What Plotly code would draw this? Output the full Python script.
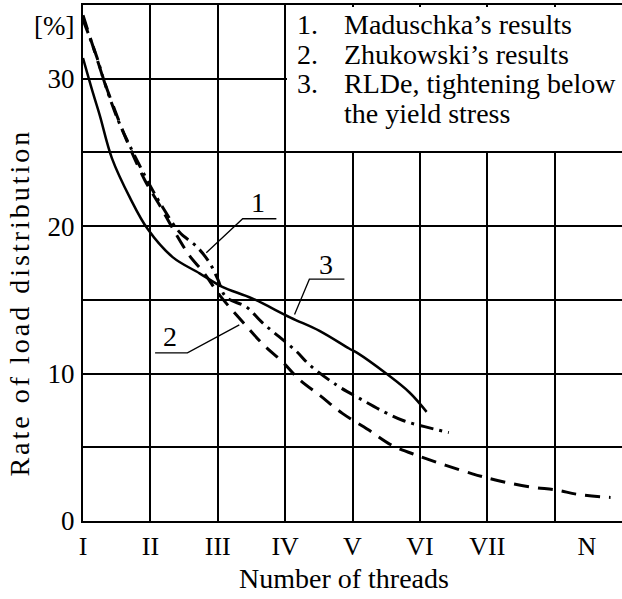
import plotly.graph_objects as go

# ---- data ----
threads_roman = ["I", "II", "III", "IV", "V", "VI", "VII", "N"]
thread_pos = [1, 2, 3, 4, 5, 6, 7, 8.48]

# 1. Maduschka's results (dash-dot)
mad_x = [1.0, 1.10, 1.21, 1.33, 1.52, 1.70, 1.99, 2.18, 2.43, 2.69, 2.88, 3.0, 3.12,
         3.43, 3.65, 3.91, 4.17, 4.36, 4.77, 5.11, 5.47, 5.76, 6.07, 6.43]
mad_y = [34.0, 32.8, 31.4, 29.6, 27.2, 25.4, 22.8, 21.3, 19.6, 18.6, 17.5, 16.4, 15.2,
         14.5, 13.5, 12.5, 11.5, 10.6, 9.2, 8.3, 7.4, 6.8, 6.4, 6.0]

# 2. Zhukowski's results (dashed)
zhu_x = [1.0, 1.07, 1.19, 1.31, 1.47, 1.65, 1.92, 2.14, 2.35, 2.58, 2.80, 3.03, 3.41,
         3.69, 3.96, 4.21, 4.52, 4.85, 5.23, 5.60, 5.99, 6.78, 7.20, 7.66, 8.03, 8.35, 8.83]
zhu_y = [34.3, 33.3, 31.6, 29.9, 27.9, 25.8, 23.1, 21.4, 19.7, 18.0, 16.8, 15.3, 13.3,
         11.9, 10.8, 9.6, 8.5, 7.3, 6.2, 5.1, 4.4, 3.2, 2.7, 2.3, 2.1, 1.8, 1.6]

# 3. RLDe, tightening below the yield stress (solid)
rld_x = [1.0, 1.15, 1.25, 1.43, 1.70, 1.96, 2.33, 2.73, 3.06, 3.51, 4.08, 4.51, 4.95,
         5.07, 5.50, 5.85, 6.10]
rld_y = [31.4, 29.0, 27.5, 24.6, 21.9, 19.8, 17.9, 16.8, 15.9, 15.1, 13.8, 12.9, 11.7,
         11.4, 10.0, 8.7, 7.4]

y_tick_vals = [0, 10, 20, 30, 33.6]
y_tick_text = ["0", "10", "20", "30", "[%]"]
y_grid_vals = [5, 10, 15, 20, 25, 30]
x_grid_vals = [2, 3, 4, 5, 6, 7, 8]

legend_nums = ["1.", "2.", "3.", ""]
legend_lines = ["Maduschka\u2019s results", "Zhukowski\u2019s results",
                "RLDe, tightening below", "the yield stress"]

FONT = "Liberation Serif, Times New Roman, serif"

fig = go.Figure()
fig.add_trace(go.Scatter(x=mad_x, y=mad_y, mode="lines", line_shape="spline",
                         line=dict(color="black", width=3, dash="14px,6px,3px,6px"),
                         showlegend=False, hoverinfo="skip"))
fig.add_trace(go.Scatter(x=zhu_x, y=zhu_y, mode="lines", line_shape="spline",
                         line=dict(color="black", width=3, dash="15px,9px"),
                         showlegend=False, hoverinfo="skip"))
fig.add_trace(go.Scatter(x=rld_x, y=rld_y, mode="lines", line_shape="spline",
                         line=dict(color="black", width=2.5),
                         showlegend=False, hoverinfo="skip"))

# white box behind the text legend (hides the grid there)
fig.add_annotation(x=0.378, y=0.996, xref="paper", yref="paper", text=" ",
                   showarrow=False, xanchor="left", yanchor="top",
                   width=340, height=144, bgcolor="white", borderpad=0, borderwidth=0)

# leader lines for curve labels
leaders = [
    ("1", 3.59, 21.6, "M 2.83 18.2 L 3.37 20.5 L 3.87 20.5"),
    ("3", 4.61, 17.4, "M 4.14 14.0 L 4.36 16.4 L 4.88 16.4"),
    ("2", 2.29, 12.5, "M 3.32 13.3 L 2.55 11.4 L 2.07 11.4"),
]
for lab, lx, ly, path in leaders:
    fig.add_shape(type="path", xref="x", yref="y", path=path,
                  line=dict(color="black", width=1.3))
    fig.add_annotation(x=lx, y=ly, xref="x", yref="y", text=lab, showarrow=False,
                       font=dict(family=FONT, size=28, color="black"),
                       xanchor="center", yanchor="middle")

# legend text
leg_y = [0.963, 0.905, 0.847, 0.789]
for num, txt, yy in zip(legend_nums, legend_lines, leg_y):
    if num:
        fig.add_annotation(x=0.393, y=yy, xref="paper", yref="paper", text=num,
                           showarrow=False, xanchor="left", yanchor="middle",
                           font=dict(family=FONT, size=28, color="black"))
    fig.add_annotation(x=0.4805, y=yy, xref="paper", yref="paper", text=txt,
                       showarrow=False, xanchor="left", yanchor="middle",
                       font=dict(family=FONT, size=28, color="black"))

# axis titles
fig.add_annotation(x=-0.118, y=0.424, xref="paper", yref="paper",
                   text='<span style="letter-spacing:3px">Rate of load distribution</span>',
                   textangle=-90, showarrow=False,
                   xanchor="center", yanchor="middle",
                   font=dict(family=FONT, size=28, color="black"))
fig.add_annotation(x=0.484, y=-0.112, xref="paper", yref="paper",
                   text="Number of threads", showarrow=False,
                   xanchor="center", yanchor="middle",
                   font=dict(family=FONT, size=28, color="black"))

fig.update_xaxes(range=[1, 9], tickmode="array", tickvals=thread_pos,
                 ticktext=threads_roman, showgrid=False, zeroline=False,
                 showline=True, linecolor="black", linewidth=2, mirror=True,
                 ticks="", ticklabelstandoff=1,
                 tickfont=dict(family=FONT, size=26, color="black"),
                 minor=dict(tickmode="array", tickvals=x_grid_vals, showgrid=True,
                            gridcolor="black", gridwidth=1.5, ticks=""))
fig.update_yaxes(range=[0, 35], tickmode="array", tickvals=y_tick_vals,
                 ticktext=y_tick_text, showgrid=False, zeroline=False,
                 showline=True, linecolor="black", linewidth=2,
                 ticks="", ticklabelstandoff=1,
                 tickfont=dict(family=FONT, size=27, color="black"),
                 minor=dict(tickmode="array", tickvals=y_grid_vals, showgrid=True,
                            gridcolor="black", gridwidth=1.5, ticks=""))

fig.update_layout(width=622, height=599, margin=dict(l=83, r=0, t=5, b=78),
                  plot_bgcolor="white", paper_bgcolor="white",
                  font=dict(family=FONT, color="black"), showlegend=False)

fig.write_html("out.html", config={"displayModeBar": False},
               post_script="document.body.style.margin='0';document.body.style.overflow='hidden';")
